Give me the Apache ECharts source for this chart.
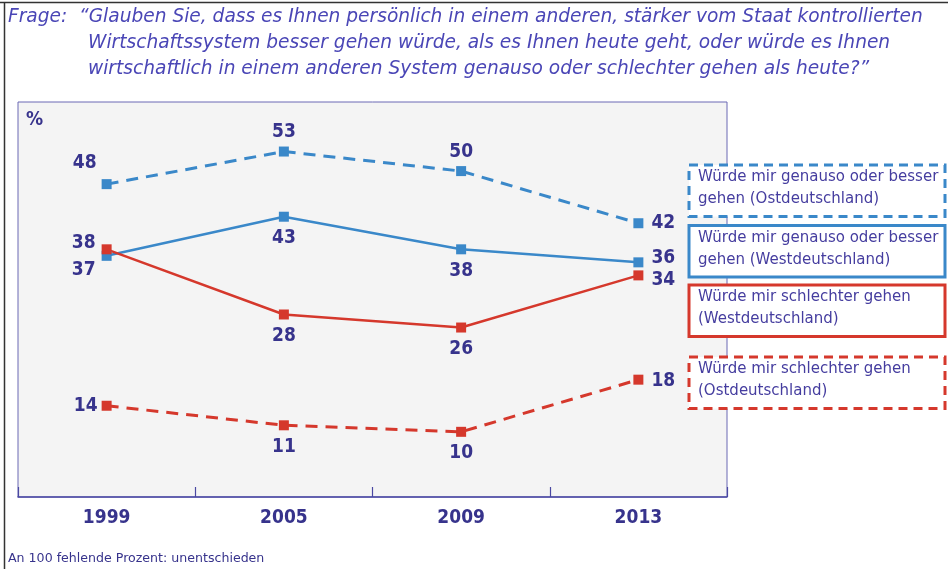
<!DOCTYPE html>
<html>
<head>
<meta charset="utf-8">
<script src="https://cdn.jsdelivr.net/npm/echarts@6/dist/echarts.min.js"></script>
<style>
html,body{margin:0;padding:0;background:#fff;}
#chart{width:948px;height:569px;}
</style>
</head>
<body>
<div id="chart"></div>
<script>
// ---- data ----
const years = ['1999', '2005', '2009', '2013'];
const ostBesser = [48, 53, 50, 42];
const westBesser = [37, 43, 38, 36];
const westSchlechter = [38, 28, 26, 34];
const ostSchlechter = [14, 11, 10, 18];
const titleLines = [
  'Frage:  \u201cGlauben Sie, dass es Ihnen persönlich in einem anderen, stärker vom Staat kontrollierten',
  'Wirtschaftssystem besser gehen würde, als es Ihnen heute geht, oder würde es Ihnen',
  'wirtschaftlich in einem anderen System genauso oder schlechter gehen als heute?\u201d'
];
const legendTexts = [
  ['Würde mir genauso oder besser', 'gehen (Ostdeutschland)'],
  ['Würde mir genauso oder besser', 'gehen (Westdeutschland)'],
  ['Würde mir schlechter gehen', '(Westdeutschland)'],
  ['Würde mir schlechter gehen', '(Ostdeutschland)']
];
const footnote = 'An 100 fehlende Prozent: unentschieden';

// ---- label placement (style, separate from data) ----
const placeOstBesser = [['left', [0, -21]], ['top', [0, 0]], ['top', [0, 0]], ['right', [3, 0]]];
const placeWestBesser = [['left', [-1, 14]], ['bottom', [0, 2]], ['bottom', [0, 2]], ['right', [3, -4]]];
const placeWestSchlechter = [['left', [-1, -6]], ['bottom', [0, 2]], ['bottom', [0, 2]], ['right', [3, 5]]];
const placeOstSchlechter = [['left', [1, 0]], ['bottom', [0, 2]], ['bottom', [0, 2]], ['right', [3, 1]]];

const BLUE = '#3a88c9';
const RED = '#d5382c';
const NAVY = '#37338c';
const TITLE = '#4a46b6';
const NUMFONT = "'Liberation Sans Narrow','DejaVu Sans Condensed','Liberation Sans',sans-serif";

function mkData(vals, place) {
  return vals.map((v, i) => ({
    value: v,
    label: { position: place[i][0], offset: place[i][1] }
  }));
}
function mkSeries(name, vals, place, color, dashed) {
  return {
    name: name,
    type: 'line',
    data: mkData(vals, place),
    symbol: 'rect',
    symbolSize: 10,
    lineStyle: { color: color, width: dashed ? 3 : 2.5, type: dashed ? [12, 8] : 'solid' },
    itemStyle: { color: color },
    label: {
      show: true,
      color: NAVY,
      fontSize: 19,
      fontWeight: 'bold',
      fontFamily: NUMFONT
    },
    animation: false,
    z: 3
  };
}

const graphics = [];
// outer frame lines
graphics.push({ type: 'line', shape: { x1: 0, y1: 2.5, x2: 948, y2: 2.5 }, style: { stroke: '#333', lineWidth: 1.5 }, z: 10 });
graphics.push({ type: 'line', shape: { x1: 4.5, y1: 2, x2: 4.5, y2: 569 }, style: { stroke: '#333', lineWidth: 1.5 }, z: 10 });
// title
const titleX = [8, 88, 88];
const titleY = [18, 44, 70];
titleLines.forEach((t, i) => {
  graphics.push({
    type: 'text', left: titleX[i], top: titleY[i] - 10,
    style: { text: t, fill: TITLE, fontSize: 18.6, fontStyle: 'italic', fontFamily: "'DejaVu Sans',sans-serif" }
  });
});
// percent sign
graphics.push({ type: 'text', left: 26, top: 111, style: { text: '%', fill: NAVY, fontSize: 19, fontWeight: 'bold', fontFamily: NUMFONT } });
// legend boxes
const boxTop = [165, 225.5, 285, 357];
const boxColor = [BLUE, BLUE, RED, RED];
const boxDash = [true, false, false, true];
legendTexts.forEach((lines, i) => {
  graphics.push({
    type: 'rect',
    shape: { x: 689, y: boxTop[i], width: 256, height: 51.5 },
    style: { fill: '#fff', stroke: boxColor[i], lineWidth: 3, lineDash: boxDash[i] ? [9, 6] : null },
    z: 20
  });
  lines.forEach((ln, j) => {
    graphics.push({
      type: 'text', left: 698, top: boxTop[i] + 5 + j * 22,
      style: { text: ln, fill: '#453d9f', fontSize: 15, fontFamily: "'DejaVu Sans',sans-serif" },
      z: 21
    });
  });
});
// footnote
graphics.push({ type: 'text', left: 8, top: 552, style: { text: footnote, fill: NAVY, fontSize: 12.6, fontFamily: "'DejaVu Sans',sans-serif" } });

const chart = echarts.init(document.getElementById('chart'), null, { renderer: 'canvas' });
chart.setOption({
  backgroundColor: '#fff',
  animation: false,
  grid: {
    left: 18, right: 221, top: 102, bottom: 72,
    show: true, backgroundColor: '#f4f4f4', borderColor: '#6a68b4', borderWidth: 1
  },
  xAxis: {
    type: 'category',
    data: years,
    boundaryGap: true,
    axisLine: { show: true, lineStyle: { color: '#4a48a2', width: 1.5 } },
    axisTick: { show: true, inside: true, length: 10, alignWithLabel: false, lineStyle: { color: '#4a48a2', width: 1.2 } },
    axisLabel: { color: NAVY, fontSize: 19, fontWeight: 'bold', fontFamily: NUMFONT, margin: 12 },
    splitLine: { show: false }
  },
  yAxis: {
    type: 'value', min: 0, max: 60.6,
    axisLine: { show: false }, axisTick: { show: false }, axisLabel: { show: false }, splitLine: { show: false }
  },
  series: [
    mkSeries('Würde mir genauso oder besser gehen (Ostdeutschland)', ostBesser, placeOstBesser, BLUE, true),
    mkSeries('Würde mir genauso oder besser gehen (Westdeutschland)', westBesser, placeWestBesser, BLUE, false),
    mkSeries('Würde mir schlechter gehen (Ostdeutschland)', ostSchlechter, placeOstSchlechter, RED, true),
    mkSeries('Würde mir schlechter gehen (Westdeutschland)', westSchlechter, placeWestSchlechter, RED, false)
  ],
  graphic: graphics
});
</script>
</body>
</html>
